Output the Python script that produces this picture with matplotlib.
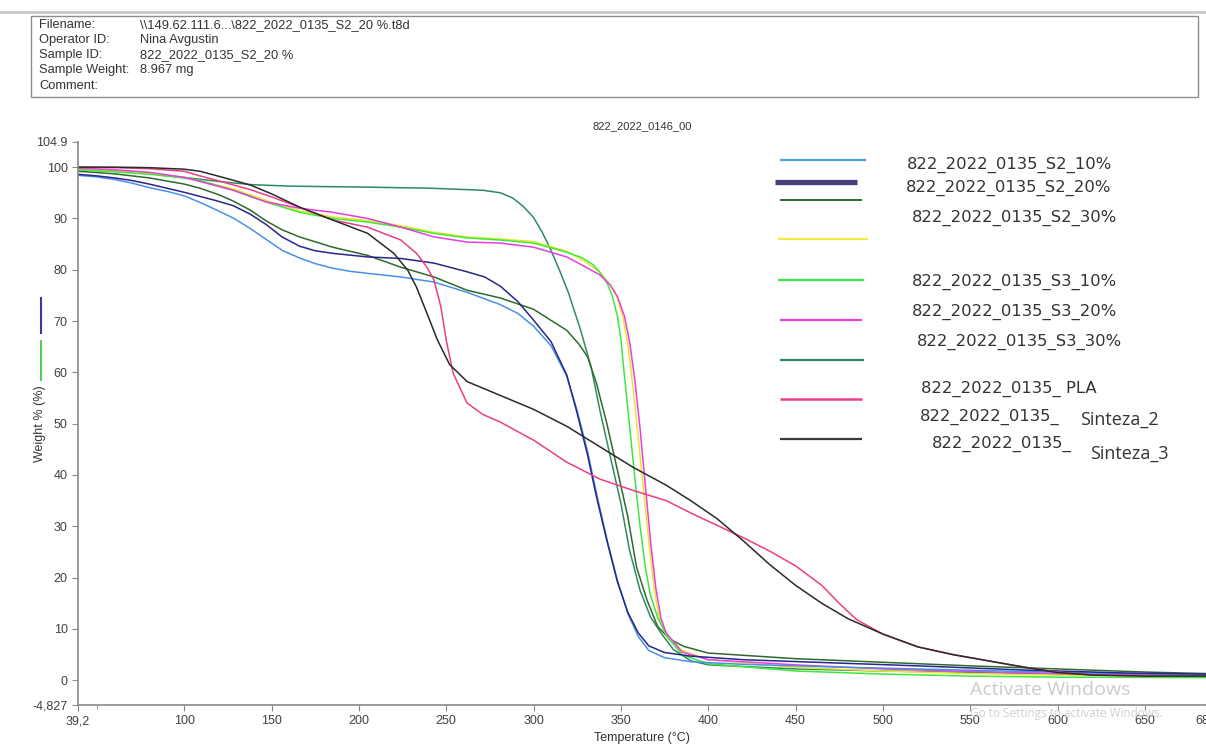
import matplotlib.pyplot as plt
from matplotlib.lines import Line2D
from matplotlib.patches import Rectangle

plt.rcParams['font.family'] = ['Liberation Sans', 'DejaVu Sans']

# --- data (temperature in C, weight in %) ---
temp_s2_10 = [39.2, 50, 60, 70, 80, 90, 100, 110, 120, 128, 138, 147, 156, 166, 175, 185, 195, 205, 224, 243,
              262, 281, 291, 300, 310, 319, 325, 331, 336, 342, 348, 354, 360, 366, 375, 390, 420, 470, 520,
              580, 640, 685]
wt_s2_10 = [98.4, 98.1, 97.6, 96.9, 96.0, 95.3, 94.4, 93.0, 91.4, 90.1, 88.0, 85.9, 83.8, 82.3, 81.2, 80.3, 79.7,
            79.3, 78.6, 77.6, 75.6, 73.2, 71.5, 69.0, 65.2, 59.3, 52.5, 44.5, 36.5, 27.5, 19.5, 13.0, 8.5, 5.8,
            4.4, 3.6, 3.1, 2.6, 2.2, 1.7, 1.3, 1.1]

temp_s2_20 = [39.2, 50, 60, 70, 80, 90, 100, 109, 118, 128, 138, 147, 156, 166, 175, 185, 205, 224, 243, 262,
              272, 281, 291, 300, 310, 319, 325, 331, 336, 342, 348, 354, 360, 366, 375, 390, 420, 470, 520,
              580, 640, 685]
wt_s2_20 = [98.6, 98.3, 97.9, 97.4, 96.7, 95.9, 95.1, 94.3, 93.5, 92.5, 90.8, 88.8, 86.4, 84.6, 83.7, 83.2, 82.5,
            82.2, 81.3, 79.6, 78.6, 76.8, 73.8, 70.2, 66.0, 59.5, 52.0, 43.8, 35.8, 27.2, 19.2, 13.2, 9.2, 6.7,
            5.4, 4.7, 4.0, 3.4, 2.8, 2.0, 1.4, 1.2]

temp_s2_30 = [39.2, 60, 80, 100, 109, 120, 128, 138, 147, 156, 166, 185, 205, 224, 243, 262, 281, 300, 319, 326,
              331, 336, 342, 348, 354, 359, 365, 371, 378, 386, 400, 450, 500, 550, 600, 650, 685]
wt_s2_30 = [99.2, 98.7, 97.9, 96.7, 95.9, 94.6, 93.4, 91.6, 89.5, 87.8, 86.4, 84.4, 82.8, 80.5, 78.6, 76.0, 74.5,
            72.3, 68.2, 65.5, 63.0, 57.9, 50.0, 41.0, 31.8, 22.0, 15.6, 10.5, 8.0, 6.6, 5.3, 4.2, 3.5, 2.8, 2.2,
            1.6, 1.3]

temp_yellow = [39.2, 60, 80, 100, 128, 147, 166, 185, 205, 224, 243, 262, 281, 300, 319, 330, 338, 344, 348, 351,
               354, 357, 360, 363, 366, 369, 372, 376, 385, 400, 450, 500, 550, 600, 685]
wt_yellow = [99.6, 99.2, 98.8, 98.0, 95.8, 93.5, 91.5, 90.3, 89.6, 88.6, 87.3, 86.4, 86.0, 85.5, 83.6, 81.5, 79.5,
             77.0, 74.5, 71.0, 65.5, 57.0, 47.0, 37.0, 27.0, 18.0, 12.0, 8.8, 5.8, 4.0, 2.5, 1.8, 1.3, 1.0, 0.8]

temp_s3_10 = [39.2, 60, 80, 100, 109, 128, 147, 166, 185, 205, 224, 243, 262, 281, 300, 310, 320, 328, 334, 338,
              342, 345, 348, 350, 352, 355, 358, 361, 364, 367, 371, 376.5, 385, 400, 450, 500, 550, 600, 685]
wt_s3_10 = [99.5, 99.1, 98.6, 97.9, 97.4, 95.5, 93.2, 91.2, 90.0, 89.3, 88.3, 87.1, 86.2, 85.8, 85.2, 84.3, 83.3,
            82.3, 81.0, 79.5, 77.5, 75.0, 71.0, 66.5, 59.5, 49.5, 39.5, 30.0, 22.0, 16.5, 12.3, 8.5, 5.0, 3.2,
            1.8, 1.2, 0.8, 0.6, 0.5]

temp_s3_20 = [39.2, 60, 80, 100, 109, 128, 147, 166, 185, 205, 224, 243, 262, 281, 300, 319, 330, 338, 344, 348,
              352, 355, 358, 361, 364, 367, 370, 373, 376, 385, 400, 450, 500, 550, 600, 685]
wt_s3_20 = [99.8, 99.5, 99.0, 98.0, 97.2, 95.5, 93.2, 92.0, 91.2, 90.0, 88.3, 86.4, 85.4, 85.2, 84.4, 82.5, 80.5,
            79.0, 77.0, 74.8, 71.0, 66.0, 58.5, 49.0, 38.0, 27.0, 18.0, 12.0, 9.2, 5.5, 4.0, 3.0, 2.2, 1.7, 1.3,
            1.0]

temp_s3_30 = [39.2, 60, 80, 100, 120, 138, 160, 205, 240, 271, 281, 288, 294, 300, 305, 310, 315, 320, 327, 333,
              338, 344, 350, 355, 361, 367, 373, 380, 390, 400, 450, 500, 550, 600, 685]
wt_s3_30 = [99.5, 99.2, 98.8, 98.0, 97.2, 96.6, 96.3, 96.1, 95.9, 95.5, 95.0, 94.0, 92.4, 90.2, 87.3, 83.8, 79.8,
            75.5, 68.2, 61.0, 52.6, 43.5, 34.5, 25.3, 17.5, 12.3, 9.2, 6.0, 3.8, 3.0, 2.2, 1.8, 1.5, 1.2, 1.0]

temp_pla = [39.2, 60, 80, 100, 109, 120, 138, 150, 166, 185, 205, 224, 233, 239, 243, 247, 250, 254, 262, 271, 281,
            300, 319, 338, 357, 376, 390, 405, 420, 435, 450, 465, 475, 485, 500, 520, 540, 560, 580, 600, 620,
            650, 685]
wt_pla = [100, 99.9, 99.7, 99.2, 98.3, 97.3, 95.6, 94.2, 92.2, 89.7, 88.3, 85.8, 83.2, 80.5, 78.0, 72.7, 66.3,
          59.8, 54.0, 51.8, 50.3, 46.8, 42.5, 39.2, 37.0, 35.0, 32.6, 30.2, 27.8, 25.2, 22.3, 18.5, 15.0, 11.8,
          9.0, 6.5, 5.0, 3.8, 2.6, 1.6, 1.0, 0.9, 0.8]

temp_sint = [39.2, 60, 80, 100, 109, 120, 138, 150, 166, 185, 205, 220, 228, 233, 239, 245, 252, 262, 281, 300,
             319, 338, 357, 376, 390, 405, 420, 435, 450, 465, 480, 500, 520, 540, 560, 580, 600, 620, 650, 685]
wt_sint = [100, 100, 99.9, 99.6, 99.2, 98.2, 96.5, 94.8, 92.2, 89.7, 87.1, 83.2, 79.9, 76.6, 71.5, 66.3, 61.5,
           58.2, 55.5, 52.8, 49.5, 45.5, 41.5, 38.0, 35.0, 31.5, 27.2, 22.6, 18.5, 15.0, 12.0, 9.0, 6.5, 5.0,
           3.8, 2.6, 1.5, 1.0, 0.8, 0.8]

x_ticks = [39.2, 100, 150, 200, 250, 300, 350, 400, 450, 500, 550, 600, 650, 685]
x_tick_labels = ['39,2', '100', '150', '200', '250', '300', '350', '400', '450', '500', '550', '600', '650', '685']
y_ticks = [-4.827, 0, 10, 20, 30, 40, 50, 60, 70, 80, 90, 100, 104.9]
y_tick_labels = ['-4,827', '0', '10', '20', '30', '40', '50', '60', '70', '80', '90', '100', '104.9']

header_keys = ['Filename:', 'Operator ID:', 'Sample ID:', 'Sample Weight:', 'Comment:']
header_vals = ['\\\\149.62.111.6...\\822_2022_0135_S2_20 %.t8d', 'Nina Avgustin', '822_2022_0135_S2_20 %',
               '8.967 mg', '']

W, H = 1206, 749


def fx(x):
    return x / W


def fy(y):
    return 1 - y / H


fig = plt.figure(figsize=(12.06, 7.49), dpi=100)
ax = fig.add_axes([fx(78), fy(705), 1 - fx(78), fy(142) - fy(705)])

curves = [
    (temp_s3_30, wt_s3_30, '#2f8a62'),
    (temp_s2_30, wt_s2_30, '#2e6a2e'),
    (temp_yellow, wt_yellow, '#e6e62a'),
    (temp_s3_10, wt_s3_10, '#3ee83e'),
    (temp_s3_20, wt_s3_20, '#e83ee0'),
    (temp_s2_10, wt_s2_10, '#4a90e8'),
    (temp_s2_20, wt_s2_20, '#26268c'),
    (temp_pla, wt_pla, '#ea3f86'),
    (temp_sint, wt_sint, '#2a2a2a'),
]
for t, w, c in curves:
    ax.plot(t, w, color=c, lw=1.1)

ax.set_xlim(39.2, 685)
ax.set_ylim(-4.827, 104.9)
ax.set_xticks(x_ticks)
ax.set_xticklabels(x_tick_labels)
ax.set_xticks([50], minor=True)
ax.set_yticks(y_ticks)
ax.set_yticklabels(y_tick_labels)
for s in ['top', 'right']:
    ax.spines[s].set_visible(False)
for s in ['left', 'bottom']:
    ax.spines[s].set_color('#8a8a8a')
    ax.spines[s].set_linewidth(1.2)
ax.tick_params(which='both', direction='out', length=4, color='#8a8a8a', labelsize=9, labelcolor='#404040')
ax.tick_params(which='minor', length=3)
ax.set_title('822_2022_0146_00', fontsize=8, color='#333333', pad=9)
ax.set_xlabel('Temperature (°C)', fontsize=9, color='#333333', labelpad=3)
ax.set_ylabel('Weight % (%)', fontsize=9, color='#333333')
ax.yaxis.set_label_coords(-0.028, 0.5)

# small colour keys beside the y label
fig.add_artist(Line2D([fx(41), fx(41)], [fy(298), fy(333)], color='#3b3b9a', lw=1.5))
fig.add_artist(Line2D([fx(41), fx(41)], [fy(341), fy(380)], color='#55cc55', lw=1.5))

# hand-placed legend: line keys and labels
key_lines = [
    (780, 866, 160, '#4a9cf0', 1.6),
    (775, 857, 182, '#4a3f7a', 3.8),
    (780, 862, 200, '#2e6a2e', 1.4),
    (778, 868, 239, '#eded40', 1.6),
    (778, 864, 280, '#3ee83e', 1.6),
    (780, 862, 320, '#e83ee0', 1.6),
    (780, 864, 360, '#2f8a62', 1.6),
    (780, 862, 399, '#ea3f86', 1.8),
    (780, 862, 439, '#3a3a3a', 1.6),
]
for x0, x1, y, c, lw in key_lines:
    fig.add_artist(Line2D([fx(x0), fx(x1)], [fy(y), fy(y)], color=c, lw=lw, solid_capstyle='butt'))

key_labels = [
    (907, 165, '822_2022_0135_S2_10%'),
    (906, 188, '822_2022_0135_S2_20%'),
    (912, 218, '822_2022_0135_S2_30%'),
    (912, 282, '822_2022_0135_S3_10%'),
    (912, 312, '822_2022_0135_S3_20%'),
    (917, 342, '822_2022_0135_S3_30%'),
    (921, 389, '822_2022_0135_ PLA'),
    (920, 417, '822_2022_0135_'),
    (932, 444, '822_2022_0135_'),
]
for x, y, s in key_labels:
    fig.text(fx(x), fy(y), s, fontsize=11.8, color='#333333', va='center', ha='left', family='DejaVu Sans')
fig.text(fx(1080), fy(420), 'Sinteza_2', fontsize=13, color='#333333', va='center', ha='left', family='Open Sans')
fig.text(fx(1090), fy(454), 'Sinteza_3', fontsize=13, color='#333333', va='center', ha='left', family='Open Sans')

# header info box
fig.add_artist(Line2D([0, 1], [fy(12), fy(12)], color='#c8c8c8', lw=2))
fig.add_artist(Rectangle((fx(31), fy(97)), fx(1198) - fx(31), fy(16) - fy(97), fill=False,
                         edgecolor='#8c8c8c', lw=1.0, transform=fig.transFigure))
row_y = [25, 40, 55, 70, 86]
for y, k, v in zip(row_y, header_keys, header_vals):
    fig.text(fx(39), fy(y), k, fontsize=9.3, color='#333333', va='center')
    fig.text(fx(140), fy(y), v, fontsize=9.3, color='#333333', va='center')

# screenshot watermark
fig.text(fx(970), fy(690), 'Activate Windows', fontsize=14, color='#cccccc', va='center', family='Open Sans')
fig.text(fx(970), fy(714), 'Go to Settings to activate Windows.', fontsize=8.5, color='#d0d0d0', va='center',
         family='Open Sans')

fig.savefig('out.png', dpi=100)
